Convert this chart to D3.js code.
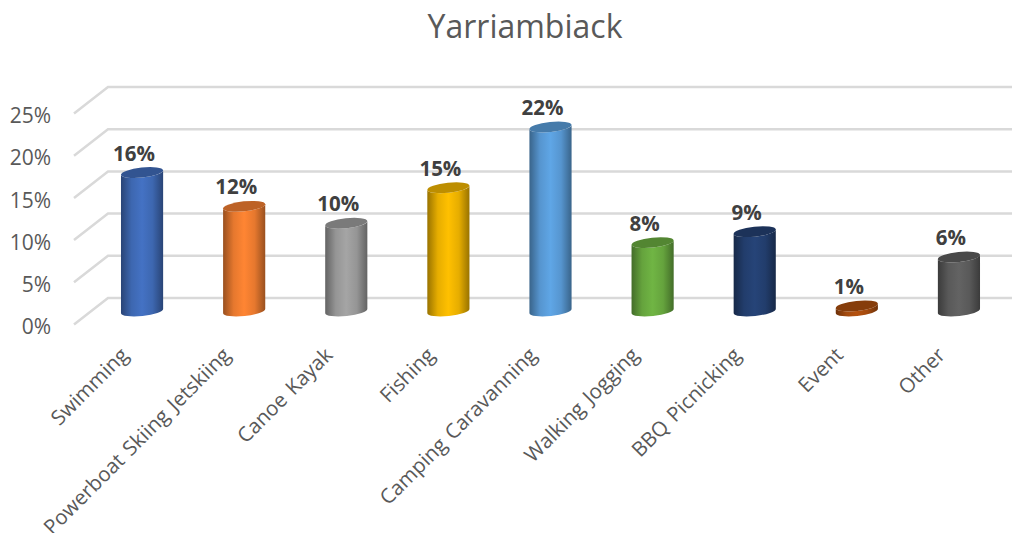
<!DOCTYPE html>
<html>
<head>
<meta charset="utf-8">
<script src="https://cdn.jsdelivr.net/npm/d3@7"></script>
<style>
  body { margin: 0; background: #fff; }
  svg { display: block; font-family: "Open Sans", sans-serif; }
  .tick line, .domain { display: none; }
</style>
</head>
<body>
<div id="chart"></div>
<script>
var categories = ["Swimming", "Powerboat Skiing Jetskiing", "Canoe Kayak", "Fishing", "Camping Caravanning",
  "Walking Jogging", "BBQ Picnicking", "Event", "Other"];
var shares = [0.164, 0.124, 0.104, 0.146, 0.218, 0.081, 0.094, 0.006, 0.064];
var colors = ["#4472C4", "#FF8533", "#A5A5A5", "#FFC000", "#5FA6E6", "#70B544", "#264478", "#B5520F", "#636363"];
var yTicks = [0, 0.05, 0.10, 0.15, 0.20, 0.25];

var svgWidth = 1016;
var svgHeight = 533;

var svg = d3.select("#chart")
  .append("svg")
  .attr("width", svgWidth)
  .attr("height", svgHeight);

// bars stand half way along the floor, the walls sit behind and in front of them
var xScale = d3.scaleBand().domain(categories).range([91, 1010]).paddingInner(0.585).paddingOuter(0.2925);
var yBack = d3.scaleLinear().domain([0, 0.25]).range([298, 87]);
var yMid = d3.scaleLinear().domain([0, 0.25]).range([311, 100]);
var yFront = d3.scaleLinear().domain([0, 0.25]).range([324.5, 113.5]);

svg.append("text")
  .attr("x", 525)
  .attr("y", 38)
  .attr("text-anchor", "middle")
  .attr("font-size", 32)
  .attr("fill", "#595959")
  .text("Yarriambiack");

// gridlines
var grid = svg.append("g")
  .attr("fill", "none")
  .attr("stroke", "#d9d9d9")
  .attr("stroke-width", 2.5);

grid.selectAll("path")
  .data(yTicks)
  .enter()
  .append("path")
  .attr("d", d => `M74,${yFront(d)}L108,${yBack(d)}H1012`);

// value axis
svg.append("g")
  .attr("transform", "translate(51, 2.5)")
  .call(d3.axisLeft(yFront).tickValues(yTicks).tickFormat(d3.format(".0%")).tickSize(0).tickPadding(0))
  .call(g => g.selectAll("text")
    .attr("font-family", "'Open Sans', sans-serif")
    .attr("font-size", 21)
    .attr("fill", "#595959"));

// category axis
svg.append("g")
  .attr("transform", "translate(0, 335)")
  .call(d3.axisBottom(xScale).tickSize(0).tickPadding(0))
  .call(g => g.selectAll("text")
    .attr("font-family", "'Open Sans', sans-serif")
    .attr("font-size", 20.5)
    .attr("word-spacing", 2)
    .attr("fill", "#595959")
    .attr("text-anchor", "end")
    .attr("transform", "translate(-19, 12) rotate(-45)")
    .attr("x", -2)
    .attr("y", 4)
    .attr("dy", "0.35em"));

// one horizontal shading per bar colour
var defs = svg.append("defs");
colors.forEach(function(color, i) {
  var grad = defs.append("linearGradient").attr("id", `shade${i}`);
  var stops = [[0, 0.6], [0.25, 0.9], [0.5, 1], [0.75, 0.9], [1, 0.6]];
  stops.forEach(function(s) {
    grad.append("stop")
      .attr("offset", s[0])
      .attr("stop-color", d3.interpolateRgb("#000", color)(s[1]));
  });
});

var tilt = 6;
var ry = 5;

function cylinderBody(d, i) {
  var rx = xScale.bandwidth() / 2;
  var cx = xScale(categories[i]) + rx;
  var dx = rx * Math.cos(tilt * Math.PI / 180);
  var dy = rx * Math.sin(tilt * Math.PI / 180);
  var top = yMid(d);
  var base = yMid(0);
  return `M${cx - dx},${top + dy}L${cx - dx},${base + dy}` +
    `A${rx},${ry} ${-tilt} 0 0 ${cx + dx},${base - dy}` +
    `L${cx + dx},${top - dy}` +
    `A${rx},${ry} ${-tilt} 0 1 ${cx - dx},${top + dy}Z`;
}

var bars = svg.append("g");

bars.selectAll("path")
  .data(shares)
  .enter()
  .append("path")
  .attr("d", cylinderBody)
  .attr("fill", (d, i) => `url(#shade${i})`);

bars.selectAll("ellipse")
  .data(shares)
  .enter()
  .append("ellipse")
  .attr("cx", 0)
  .attr("cy", 0)
  .attr("rx", xScale.bandwidth() / 2)
  .attr("ry", ry)
  .attr("transform", (d, i) => `translate(${xScale(categories[i]) + xScale.bandwidth() / 2}, ${yMid(d)}) rotate(${-tilt})`)
  .attr("fill", (d, i) => d3.interpolateRgb("#000", colors[i])(0.74));

// data labels
svg.append("g")
  .selectAll("text")
  .data(shares)
  .enter()
  .append("text")
  .attr("x", (d, i) => xScale(categories[i]) + xScale.bandwidth() / 2 - 8)
  .attr("y", d => yMid(d) - 12)
  .attr("text-anchor", "middle")
  .attr("font-size", 20.5)
  .attr("font-weight", "bold")
  .attr("fill", "#404040")
  .text(d => d3.format(".0%")(d));
</script>
</body>
</html>
